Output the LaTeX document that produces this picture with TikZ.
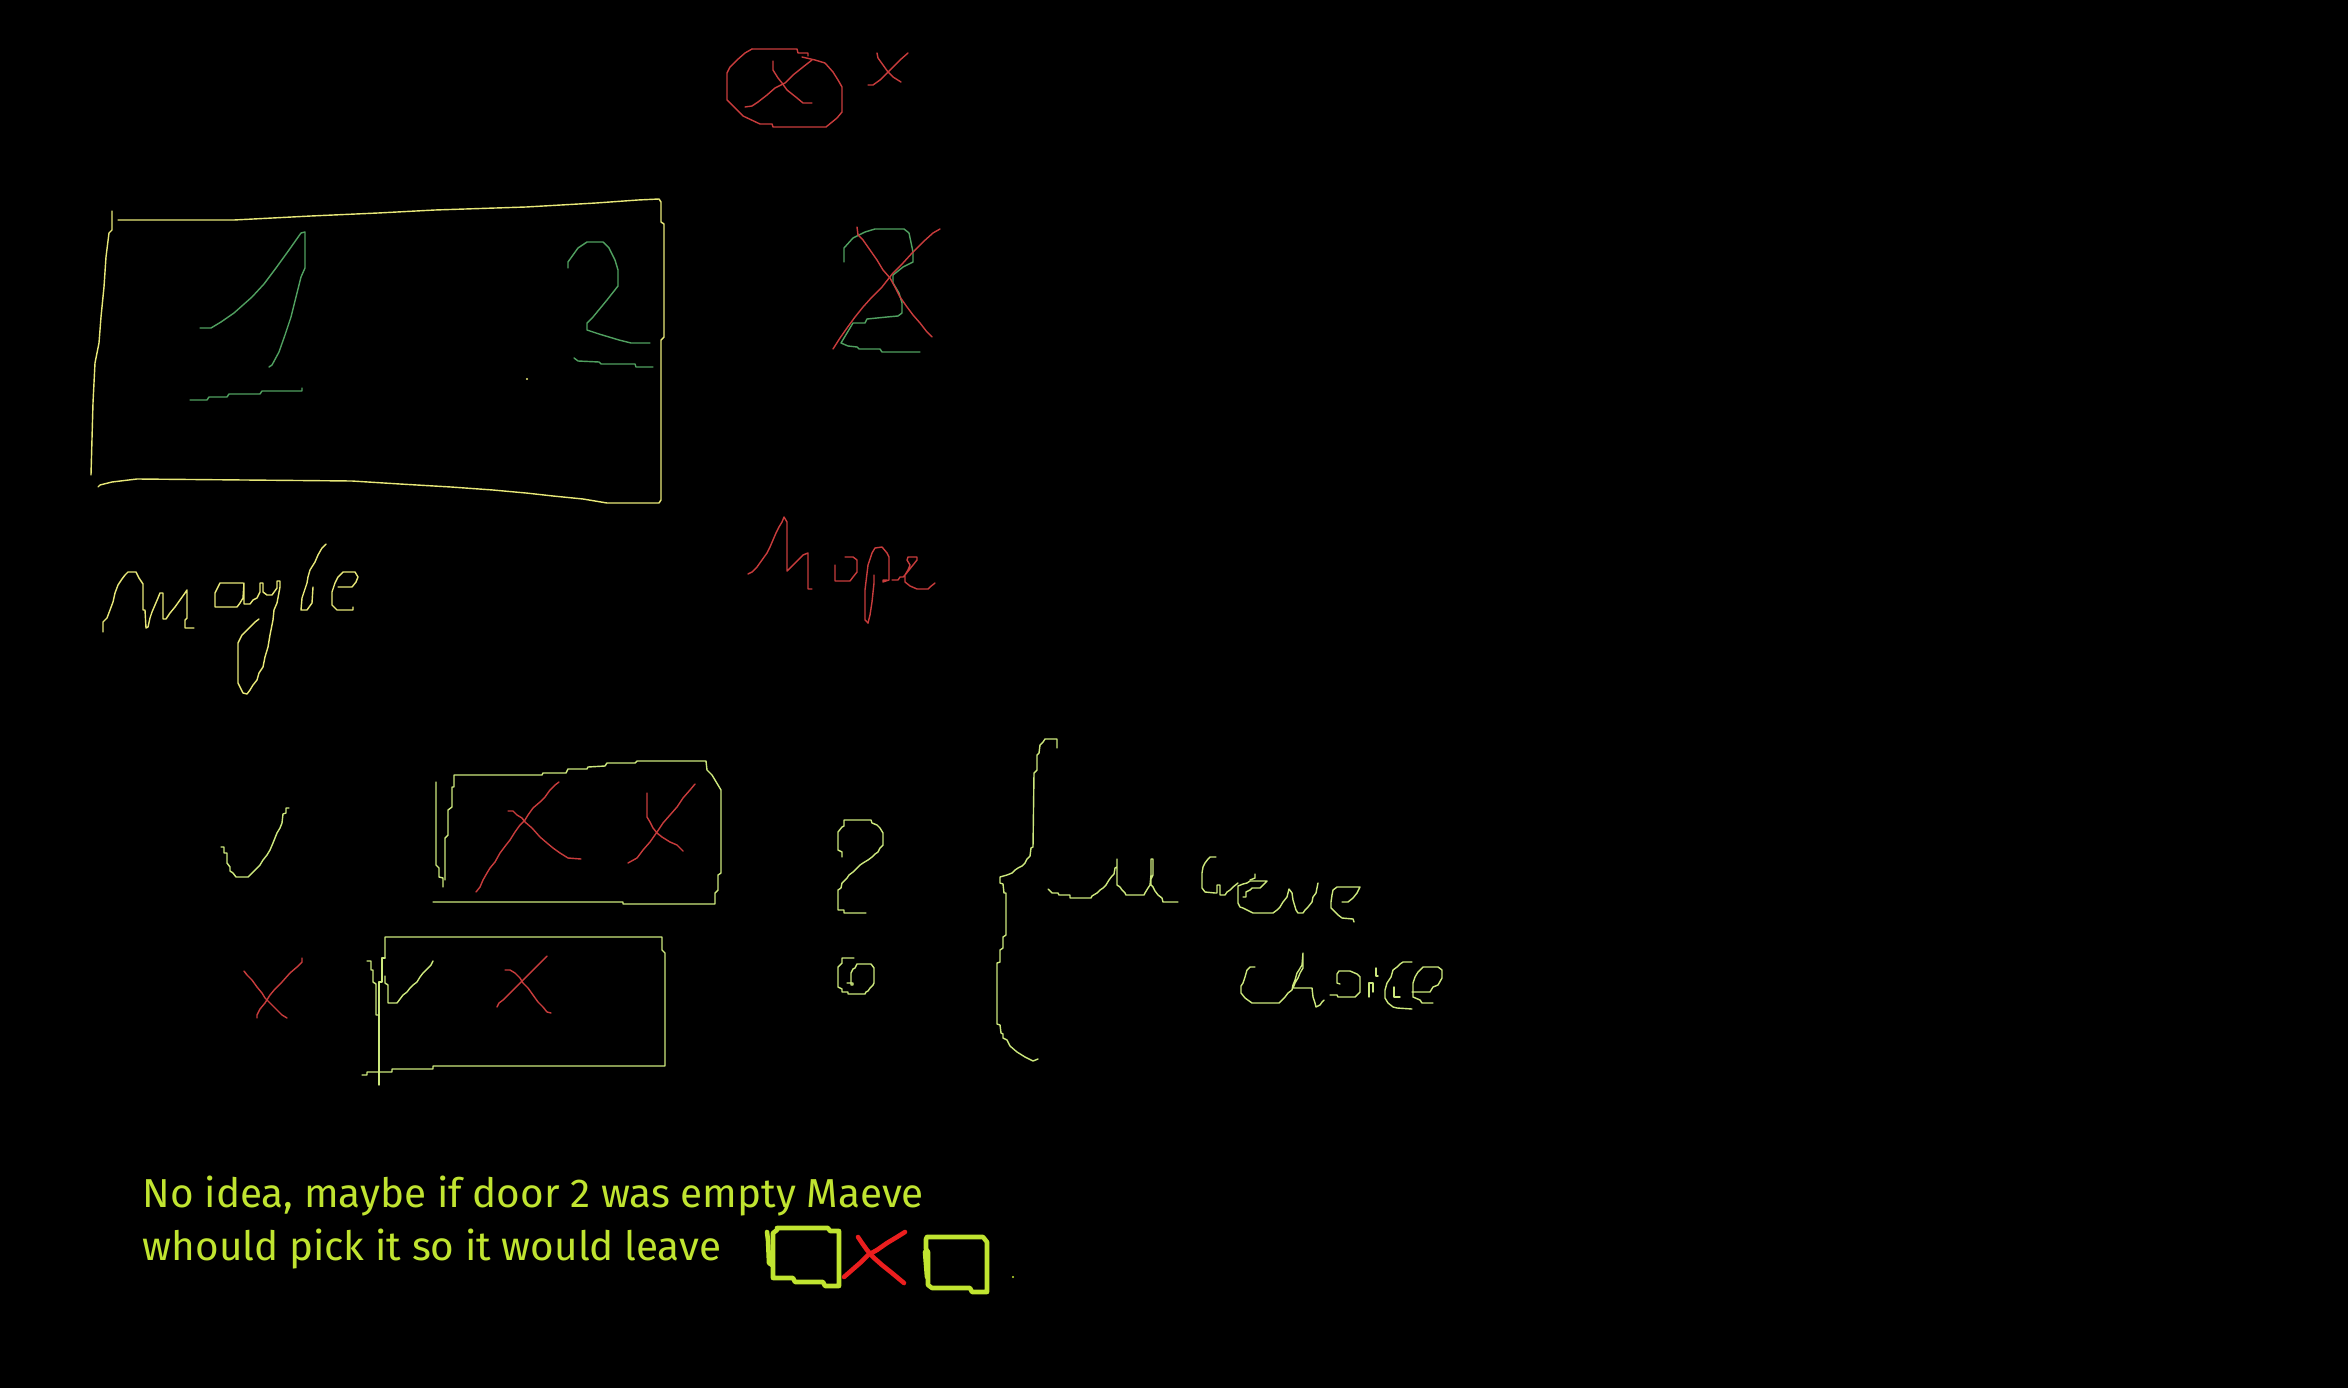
\documentclass[tikz,border=0pt]{standalone}
\usepackage{fontspec}
\setmainfont{Fira Sans}
\usepackage{tikz}
\definecolor{chalkyellow}{RGB}{232,232,120}
\definecolor{chalklime}{RGB}{205,232,125}
\definecolor{chalkgreen}{RGB}{80,160,96}
\definecolor{chalkred}{RGB}{200,60,60}
\definecolor{brightred}{RGB}{235,30,30}
\definecolor{textlime}{RGB}{192,228,48}

\begin{document}
\begin{tikzpicture}[x=0.01cm, y=-0.01cm,
        line join=round, line cap=round,
        pen/.style={line width=0.4pt},
        yellowpen/.style={pen, chalkyellow},
        limepen/.style={pen, chalklime},
        greenpen/.style={pen, chalkgreen},
        redpen/.style={pen, chalkred},
        thickpen/.style={line width=1.3pt, textlime},
        thickred/.style={line width=1.3pt, brightred},
        notetext/.style={anchor=base west, inner sep=0pt, text=textlime,
            font=\fontsize{11.5}{14}\selectfont}]
    \fill[black] (0,0) rectangle (2348,1388);
    \useasboundingbox (0,0) rectangle (2348,1388);

    % door box with 1 and 2
    \draw[yellowpen] (112,211) -- (112,230) -- (109,233) -- (106,257) -- (104,287)
        -- (101,317) -- (99,343) -- (95,363) -- (93,403) -- (91,475);
    \draw[yellowpen] (118,220) -- (234,220) -- (311,216) -- (378,213) -- (435,210)
        -- (526,207) -- (596,203) -- (638,200) -- (659,199) -- (661,202)
        -- (661,222) -- (664,224) -- (664,337) -- (661,340) -- (661,500)
        -- (659,503) -- (607,503) -- (583,499) -- (553,496) -- (526,493)
        -- (493,490) -- (451,487) -- (400,484) -- (352,481) -- (137,479)
        -- (112,482) -- (100,485) -- (98,487);
    \draw[greenpen] (200,328) -- (211,328) -- (221,322) -- (234,313) -- (252,297)
        -- (264,284) -- (276,268) -- (289,250) -- (301,233) -- (305,232)
        -- (305,268) -- (301,277) -- (296,297) -- (291,317) -- (285,335)
        -- (279,352) -- (272,365) -- (269,367);
    \draw[greenpen] (190,400) -- (207,400) -- (209,397) -- (227,397) -- (229,394)
        -- (260,394) -- (262,391) -- (302,391) -- (302,388);
    \draw[greenpen] (568,268) -- (568,262) -- (578,248) -- (587,242) -- (603,242)
        -- (609,248) -- (615,260) -- (618,270) -- (618,286) -- (607,300)
        -- (593,317) -- (587,323) -- (587,330) -- (599,334) -- (619,340)
        -- (631,343) -- (650,343);
    \draw[greenpen] (574,358) -- (578,361) -- (599,362) -- (601,364) -- (635,364)
        -- (636,367) -- (653,367);
    \fill[chalkyellow] (527,379) circle (1.2);

    % maybe
    \draw[yellowpen] (103,632) -- (103,622) -- (107,618) -- (110,610) -- (113,602)
        -- (115,593) -- (118,585) -- (122,579) -- (125,575) -- (128,572)
        -- (136,572) -- (139,578) -- (143,584) -- (143,610) -- (145,610)
        -- (146,628) -- (148,627) -- (150,618) -- (152,612) -- (155,605)
        -- (158,598) -- (160,593) -- (163,593) -- (163,619) -- (166,619)
        -- (170,613) -- (175,607) -- (180,600) -- (185,593) -- (187,590)
        -- (187,618) -- (185,620) -- (185,628) -- (194,628);
    \draw[yellowpen] (243,583) -- (220,583) -- (215,593) -- (215,607) -- (237,607)
        -- (240,603) -- (243,598) -- (244,583) -- (244,604) -- (250,604)
        -- (253,600) -- (257,598) -- (260,592) -- (260,583) -- (263,583)
        -- (263,592) -- (267,595) -- (272,595) -- (277,588) -- (277,581)
        -- (280,581) -- (280,587) -- (277,603) -- (274,610) -- (273,620)
        -- (270,635) -- (268,647) -- (265,657) -- (263,667) -- (259,673)
        -- (257,680) -- (253,685) -- (250,690) -- (247,694) -- (243,693)
        -- (240,687) -- (238,683) -- (238,643) -- (242,635) -- (247,630)
        -- (252,625) -- (255,622) -- (259,619);
    \draw[yellowpen] (326,544) -- (322,548) -- (318,555) -- (315,562) -- (310,570)
        -- (308,577) -- (307,583) -- (302,598) -- (301,610) -- (307,610)
        -- (312,603) -- (313,587);
    \draw[yellowpen] (338,587) -- (352,587) -- (356,582) -- (358,577) -- (355,572)
        -- (343,572) -- (338,577) -- (335,583) -- (332,592) -- (332,605)
        -- (337,610) -- (353,610) -- (353,607);

    % crossed circle and crosses at the top
    \draw[redpen] (752,49) -- (797,49) -- (798,53) -- (808,53) -- (808,56);
    \draw[redpen] (802,57) -- (815,60) -- (825,63) -- (833,72) -- (838,80)
        -- (842,87) -- (842,112) -- (837,118) -- (826,127) -- (773,127)
        -- (772,124) -- (760,124) -- (743,116) -- (732,105) -- (727,100)
        -- (727,73) -- (730,67) -- (737,60) -- (745,53) -- (752,49);
    \draw[redpen] (773,61) -- (773,70) -- (778,78) -- (782,83) -- (787,90)
        -- (797,98) -- (803,103) -- (812,103);
    \draw[redpen] (745,107) -- (752,106) -- (758,102) -- (767,95) -- (775,88)
        -- (785,83) -- (793,75) -- (803,67) -- (812,60);
    \draw[redpen] (877,53) -- (878,58) -- (883,65) -- (888,72) -- (893,77) -- (901,82);
    \draw[redpen] (868,85) -- (873,85) -- (880,80) -- (887,73) -- (893,67)
        -- (900,60) -- (908,53);

    % crossed-out 2
    \draw[greenpen] (844,262) -- (844,248) -- (853,238) -- (865,232) -- (875,229)
        -- (904,229) -- (909,233) -- (913,252) -- (913,262) -- (903,267)
        -- (893,275) -- (893,283) -- (899,293) -- (902,303) -- (902,313)
        -- (898,316) -- (887,317) -- (867,319) -- (865,323) -- (853,323)
        -- (841,343) -- (848,346) -- (857,347) -- (859,349) -- (880,349)
        -- (882,352) -- (920,352);
    \draw[redpen] (857,227) -- (858,235) -- (863,240) -- (870,250) -- (877,260)
        -- (883,270) -- (890,278) -- (895,287) -- (900,297) -- (907,307)
        -- (913,315) -- (920,323) -- (927,332) -- (932,337);
    \draw[redpen] (940,229) -- (933,233) -- (923,242) -- (913,252) -- (903,263)
        -- (893,273) -- (882,287) -- (872,297) -- (863,307) -- (855,317)
        -- (847,328) -- (840,338) -- (833,349);

    % Nope
    \draw[redpen] (748,574) -- (752,572) -- (757,567) -- (762,560) -- (767,553)
        -- (770,547) -- (773,540) -- (776,533) -- (779,527) -- (782,522)
        -- (784,517) -- (787,522) -- (787,571) -- (795,563) -- (803,555)
        -- (808,553) -- (808,589) -- (812,589);
    \draw[redpen] (845,557) -- (853,557) -- (857,560) -- (857,572) -- (853,577)
        -- (850,581) -- (835,581) -- (835,565);
    \draw[redpen] (868,623) -- (865,620) -- (865,590) -- (868,565) -- (872,553)
        -- (875,548) -- (882,547) -- (887,553) -- (889,557) -- (889,580)
        -- (883,582) -- (883,580) -- (887,580);
    \draw[redpen] (868,623) -- (870,615) -- (872,602) -- (874,583) -- (874,575);
    \draw[redpen] (892,580) -- (898,580) -- (900,577) -- (903,577) -- (905,575)
        -- (908,570) -- (910,565) -- (907,560) -- (908,557) -- (917,557)
        -- (917,560) -- (913,565) -- (909,570) -- (905,575) -- (905,582)
        -- (910,586) -- (917,589) -- (928,589) -- (930,587) -- (935,583);

    % tick, cross and the two small doors
    \draw[limepen] (221,847) -- (224,847) -- (224,853) -- (227,853) -- (227,863)
        -- (230,867) -- (230,871) -- (233,873) -- (236,877) -- (248,877)
        -- (250,875) -- (253,872) -- (257,868) -- (260,865) -- (263,860)
        -- (267,855) -- (270,850) -- (273,843) -- (275,838) -- (277,833)
        -- (280,828) -- (282,823) -- (283,814) -- (286,813) -- (286,808)
        -- (289,808);
    \draw[redpen] (244,971) -- (247,975) -- (252,980) -- (257,987) -- (262,993)
        -- (265,998) -- (270,1003) -- (277,1010) -- (282,1015) -- (287,1018);
    \draw[redpen] (302,958) -- (302,962) -- (297,967) -- (290,973) -- (282,982)
        -- (275,989) -- (270,995) -- (265,1003) -- (260,1009) -- (257,1015)
        -- (257,1018);
    \draw[limepen] (436,782) -- (436,865) -- (439,868) -- (439,877) -- (443,878)
        -- (443,887);
    \draw[limepen] (445,880) -- (445,838) -- (448,835) -- (448,810) -- (452,807)
        -- (452,787) -- (454,787) -- (454,775) -- (542,775) -- (543,773)
        -- (566,773) -- (568,769) -- (587,769) -- (588,767) -- (605,766)
        -- (607,763) -- (635,763) -- (637,761) -- (706,761) -- (707,770)
        -- (712,775) -- (715,780) -- (718,785) -- (721,790) -- (721,873)
        -- (718,875) -- (718,890) -- (715,893) -- (715,904) -- (623,904)
        -- (623,902) -- (433,902);
    \draw[redpen] (559,782) -- (555,785) -- (550,790) -- (545,797) -- (540,802)
        -- (533,808) -- (528,815) -- (525,820) -- (520,825) -- (515,832)
        -- (510,840) -- (506,845) -- (500,853) -- (495,862) -- (490,868)
        -- (487,873) -- (483,880) -- (480,887) -- (476,892);
    \draw[redpen] (508,811) -- (513,811) -- (517,815) -- (522,818) -- (525,822)
        -- (532,828) -- (540,837) -- (547,843) -- (553,848) -- (560,853)
        -- (568,858) -- (581,859);
    \draw[redpen] (647,793) -- (647,817) -- (650,822) -- (653,828) -- (657,833)
        -- (662,837) -- (670,842) -- (677,845) -- (683,851);
    \draw[redpen] (695,784) -- (690,790) -- (683,798) -- (677,807) -- (670,815)
        -- (663,823) -- (657,832) -- (650,842) -- (643,850) -- (637,858)
        -- (628,863);
    \draw[limepen] (385,958) -- (385,937) -- (662,937) -- (662,950) -- (665,953)
        -- (665,1066) -- (433,1066) -- (433,1069) -- (392,1069) -- (392,1072)
        -- (367,1072) -- (367,1075) -- (362,1075);
    \draw[limepen] (385,958) -- (382,958) -- (382,982) -- (379,982) -- (379,1085);
    \draw[limepen] (367,961) -- (371,961) -- (371,970) -- (373,970) -- (373,982)
        -- (376,984) -- (376,1015) -- (379,1015);
    \draw[limepen] (385,976) -- (385,983) -- (388,985) -- (388,1003) -- (397,1003)
        -- (400,999) -- (403,995) -- (407,992) -- (410,988) -- (413,985)
        -- (417,982) -- (420,977) -- (423,973) -- (427,969) -- (431,965)
        -- (433,961);
    \draw[redpen] (505,970) -- (510,970) -- (515,973) -- (520,978) -- (523,983)
        -- (528,988) -- (533,995) -- (538,1002) -- (543,1007) -- (547,1012)
        -- (551,1013);
    \draw[redpen] (547,956) -- (543,960) -- (538,965) -- (533,970) -- (528,975)
        -- (523,980) -- (518,985) -- (513,990) -- (508,995) -- (503,1000)
        -- (499,1003) -- (497,1007);

    % ? and 6
    \draw[limepen] (842,857) -- (842,852) -- (838,850) -- (838,832) -- (842,827)
        -- (844,826) -- (844,820) -- (871,820) -- (872,823) -- (877,825)
        -- (880,828) -- (883,833) -- (883,845) -- (880,848) -- (878,852)
        -- (875,854) -- (872,857) -- (868,860) -- (863,863) -- (860,865)
        -- (857,868) -- (853,872) -- (849,875) -- (847,878) -- (845,880)
        -- (842,883) -- (841,888) -- (838,890) -- (838,910) -- (844,910)
        -- (844,913) -- (866,913);
    \draw[limepen] (854,958) -- (842,958) -- (842,963) -- (838,967) -- (838,987)
        -- (842,989) -- (842,992) -- (848,992) -- (848,994) -- (865,994)
        -- (866,992) -- (868,991) -- (870,988) -- (873,985) -- (874,983)
        -- (874,968) -- (871,964) -- (857,964) -- (855,968) -- (853,969)
        -- (851,973) -- (851,985) -- (853,985) -- (853,983) -- (847,983);

    % brace: Maeve choice
    \draw[limepen] (1057,748) -- (1057,739) -- (1045,739) -- (1043,742) -- (1040,745)
        -- (1039,753) -- (1037,755) -- (1037,770) -- (1034,773) -- (1033,847)
        -- (1031,848) -- (1030,856) -- (1027,859) -- (1025,863) -- (1022,866)
        -- (1018,868) -- (1015,870) -- (1012,873) -- (1007,875) -- (1000,877)
        -- (1000,883) -- (1003,884) -- (1004,893) -- (1006,893) -- (1006,935)
        -- (1003,937) -- (1003,948) -- (1000,950) -- (1000,962) -- (997,963)
        -- (997,1024) -- (1000,1025) -- (1001,1033) -- (1003,1034) -- (1003,1038)
        -- (1007,1040) -- (1010,1046) -- (1017,1052) -- (1025,1057)
        -- (1033,1061) -- (1038,1059);
    \draw[limepen] (1048,889) -- (1052,893) -- (1058,893) -- (1059,895) -- (1070,895)
        -- (1070,898) -- (1091,898) -- (1092,896) -- (1097,893) -- (1100,890)
        -- (1103,888) -- (1106,885) -- (1109,880) -- (1112,876) -- (1114,874)
        -- (1115,868) -- (1117,867) -- (1117,859) -- (1117,885) -- (1120,887)
        -- (1122,890) -- (1125,893) -- (1126,895) -- (1144,895) -- (1145,893)
        -- (1148,888) -- (1150,885) -- (1151,875) -- (1151,859) -- (1153,859)
        -- (1153,875) -- (1151,879) -- (1151,885) -- (1153,887) -- (1155,891)
        -- (1158,895) -- (1162,898) -- (1163,902) -- (1178,902);
    \draw[limepen] (1216,857) -- (1210,857) -- (1208,859) -- (1205,863) -- (1203,867)
        -- (1202,873) -- (1202,888) -- (1205,892) -- (1215,893) -- (1217,893)
        -- (1217,885) -- (1220,885) -- (1220,895) -- (1225,895) -- (1227,892)
        -- (1230,890) -- (1233,887) -- (1238,883);
    \draw[limepen] (1243,897) -- (1246,897) -- (1246,892) -- (1250,890) -- (1252,888)
        -- (1260,888) -- (1263,885) -- (1267,881) -- (1250,881) -- (1247,883)
        -- (1243,884) -- (1238,886) -- (1238,903) -- (1240,907) -- (1243,908)
        -- (1247,910) -- (1253,913) -- (1273,913) -- (1277,910) -- (1280,907)
        -- (1283,902) -- (1287,897) -- (1289,889) -- (1292,893) -- (1293,900)
        -- (1296,910) -- (1298,913) -- (1303,913) -- (1305,910) -- (1308,907)
        -- (1312,902) -- (1313,897) -- (1316,893) -- (1318,883);
    \draw[limepen] (1255,874) -- (1255,878) -- (1250,880);
    \draw[limepen] (1342,902) -- (1348,902) -- (1353,898) -- (1357,893) -- (1360,887)
        -- (1337,887) -- (1333,890) -- (1332,895) -- (1331,902) -- (1331,908)
        -- (1335,912) -- (1338,915) -- (1342,918) -- (1353,919) -- (1354,922);
    \draw[limepen] (1255,967) -- (1250,967) -- (1247,970) -- (1245,977) -- (1243,983)
        -- (1241,986) -- (1241,993) -- (1245,998) -- (1252,1003) -- (1279,1003)
        -- (1282,1000) -- (1285,997) -- (1288,993) -- (1292,990) -- (1293,985)
        -- (1295,980) -- (1297,973) -- (1299,970) -- (1302,965) -- (1303,953)
        -- (1303,968) -- (1300,973) -- (1298,978) -- (1295,983) -- (1293,988)
        -- (1312,988) -- (1313,997) -- (1315,1003) -- (1316,1007) -- (1320,1005)
        -- (1322,1002) -- (1324,1000);
    \draw[limepen] (1330,995) -- (1337,995) -- (1338,997) -- (1355,997) -- (1357,995)
        -- (1360,992) -- (1360,977) -- (1357,974) -- (1350,971) -- (1339,971)
        -- (1337,974) -- (1337,983) -- (1340,984);
    \draw[limepen] (1369,997) -- (1369,983) -- (1373,983) -- (1373,992);
    \draw[limepen] (1376,968) -- (1376,976) -- (1378,976);
    \draw[limepen] (1412,962) -- (1403,962) -- (1400,964) -- (1397,967) -- (1393,970)
        -- (1391,977) -- (1387,983) -- (1385,990) -- (1385,998) -- (1388,1003)
        -- (1393,1007) -- (1397,1008) -- (1412,1009);
    \draw[limepen] (1394,987) -- (1394,997) -- (1400,997);
    \draw[limepen] (1412,992) -- (1430,992) -- (1433,987) -- (1438,985) -- (1442,978)
        -- (1442,970) -- (1438,967) -- (1423,967) -- (1418,972) -- (1415,977)
        -- (1413,983) -- (1413,997) -- (1420,1000) -- (1422,1003) -- (1433,1003);

    % note with the doors at the bottom
    \node[notetext] (note1) at (142,1207) {No idea, maybe if door 2 was empty Maeve};
    \node[notetext] (note2) at (142,1260) {whould pick it so it would leave};
    \draw[thickpen] (777,1228) -- (828,1228) -- (830,1231) -- (839,1231) -- (839,1286)
        -- (825,1286) -- (823,1282) -- (795,1282) -- (793,1278) -- (773,1278)
        -- (773,1233) -- (777,1230);
    \draw[thickpen] (767,1232) -- (768,1240) -- (769,1263) -- (772,1265);
    \draw[thickred] (858,1237) -- (862,1243) -- (867,1250) -- (873,1257) -- (882,1265)
        -- (892,1273) -- (904,1283);
    \draw[thickred] (905,1232) -- (897,1237) -- (887,1243) -- (877,1250) -- (868,1255)
        -- (860,1263) -- (852,1270) -- (844,1277);
    \draw[thickpen] (927,1237) -- (983,1237) -- (987,1242) -- (987,1292) -- (972,1292)
        -- (970,1288) -- (932,1288) -- (928,1285) -- (928,1252) -- (926,1249)
        -- (926,1239) -- (927,1237);
    \draw[thickpen] (925,1252) -- (927,1277);
    \fill[textlime] (1013,1277) circle (1.2);
\end{tikzpicture}
\end{document}
